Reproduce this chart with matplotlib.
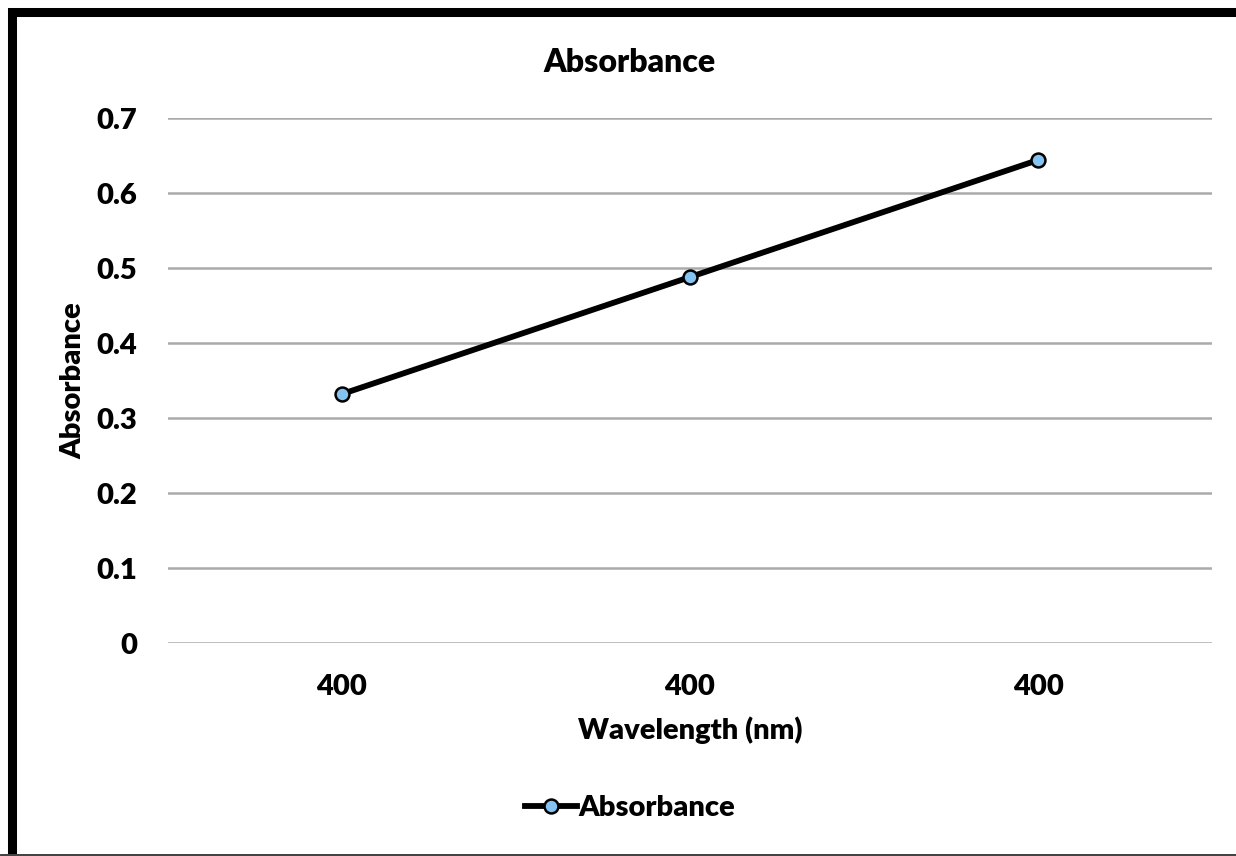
import matplotlib.pyplot as plt
from matplotlib.patches import Rectangle

categories = ["400", "400", "400"]
absorbance = [0.332, 0.488, 0.644]
yticks = [0, 0.1, 0.2, 0.3, 0.4, 0.5, 0.6, 0.7]

plt.rcParams['font.family'] = ['Lato', 'DejaVu Sans']
plt.rcParams['font.weight'] = 'heavy'

fig = plt.figure(figsize=(12.36, 8.56), dpi=100)
ax = fig.add_axes([0.1359, 0.2488, 0.8447, 0.6133])

x = range(len(categories))
ax.plot(x, absorbance, color='black', lw=4.2, marker='o', ms=10,
        mfc='#85c4f2', mec='black', mew=1.8, label='Absorbance', zorder=3)

ax.set_xlim(-0.5, len(categories) - 0.5)
ax.set_ylim(0, 0.7)
ax.set_yticks(yticks)
ax.set_yticklabels([f"{v:g}" for v in yticks])
ax.set_xticks(list(x))
ax.set_xticklabels(categories)
ax.grid(axis='y', color='#aaaaaa', lw=1.8)
ax.set_axisbelow(True)
for s in ax.spines.values():
    s.set_visible(False)
ax.tick_params(length=0, labelsize=21, pad=22)
ax.tick_params(axis='x', pad=22)

fig.text(629 / 1236, 1 - 62 / 856, 'Absorbance', fontsize=23,
         fontweight='heavy', ha='center', va='center')
ax.set_xlabel('Wavelength (nm)', fontsize=21, fontweight='heavy', labelpad=12)
ax.set_ylabel('Absorbance', fontsize=21, fontweight='heavy', labelpad=7)

fig.legend(loc='center', bbox_to_anchor=(630 / 1236, 1 - 808 / 856), frameon=False,
           fontsize=21, handlelength=1.8, handletextpad=0.05)

# thick outer frame (partly cut off at right and bottom, like the screenshot)
fig.patches.append(Rectangle((12 / 1236, -0.02), 1.2, 1 - 12 / 856 + 0.02,
                             transform=fig.transFigure, fill=False,
                             edgecolor='black', lw=6.5))
fig.patches.append(Rectangle((0, 1 / 856), 1.2, 0, transform=fig.transFigure,
                             fill=False, edgecolor='#444444', lw=2))

fig.savefig('out.png', dpi=100)
